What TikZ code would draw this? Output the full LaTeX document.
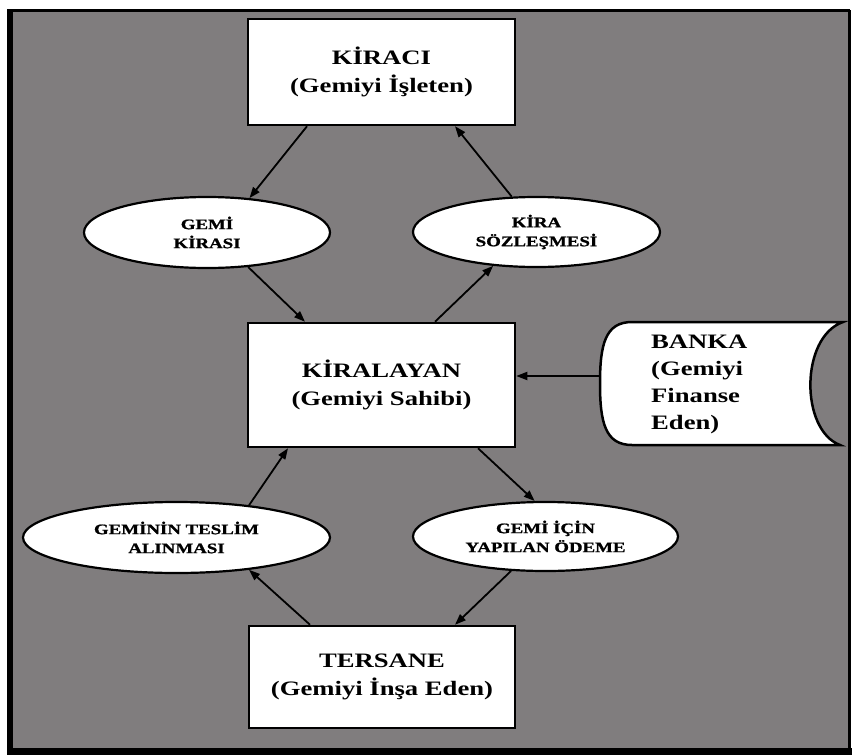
\documentclass[tikz,border=0pt]{standalone}
\usepackage{fontspec}
\setmainfont{Liberation Serif}[FakeStretch=1.3]
\newfontfamily\heavyfont{Liberation Serif}[FakeStretch=1.3,FakeBold=1.2]
\usetikzlibrary{arrows.meta,shapes.geometric}
\definecolor{bggray}{RGB}{128,125,126}
\begin{document}
\begin{tikzpicture}[x=1pt,y=-1pt,
  box/.style={draw=black,line width=2.5pt,fill=white,minimum width=267pt,inner sep=0pt,align=center,
    font=\fontsize{20.5}{28}\selectfont\bfseries},
  oval/.style={ellipse,draw=black,line width=2.2pt,fill=white,inner sep=0pt,align=center,
    font=\heavyfont\fontsize{14.5}{19}\selectfont\bfseries},
  arr/.style={line width=1.8pt,-{Triangle[length=11pt,width=8pt]}}]
\useasboundingbox (0,0) rectangle (852,755);
% background and frame
\fill[white] (0,0) rectangle (852,755);
\fill[bggray] (7,10) rectangle (850,755);
\draw[line width=6pt] (10,10) -- (10,755);
\draw[line width=7pt] (7,751.5) -- (852,751.5);
\draw[line width=2.5pt] (7,10.5) -- (850,10.5);
\draw[line width=3pt] (849,10) -- (849,755);
% boxes
\node[box,minimum height=106pt] (kiraci) at (381.5,72) {KİRACI\\(Gemiyi İşleten)};
\node[box,minimum height=124pt] (kiralayan) at (381.5,385) {KİRALAYAN\\(Gemiyi Sahibi)};
\node[box,minimum width=266pt,minimum height=102pt] (tersane) at (382,677) {TERSANE\\(Gemiyi İnşa Eden)};
% ellipses
\node[oval,minimum width=246pt,minimum height=71pt] (kirasi) at (207,232.5) {GEMİ\\KİRASI};
\node[oval,minimum width=247pt,minimum height=70pt] (sozlesme) at (536.5,232) {KİRA\\SÖZLEŞMESİ};
\node[oval,minimum width=307pt,minimum height=71pt] (teslim) at (176.5,537.5) {GEMİNİN TESLİM\\ALINMASI};
\node[oval,minimum width=265pt,minimum height=69pt] (odeme) at (545.5,536.5) {GEMİ İÇİN\\YAPILAN ÖDEME};
% bank (stored data shape)
\draw[line width=2.5pt,fill=white] (843,322) -- (632,322)
  .. controls (605,322) and (600,345) .. (600,383.5)
  .. controls (600,422) and (605,445) .. (632,445) -- (840,445)
  .. controls (800,430) and (800,337) .. (843,322) -- cycle;
\coordinate (bankaW) at (600,376);
\node[anchor=west,inner sep=0pt,align=left,font=\fontsize{20.5}{27}\selectfont\bfseries] (banka) at (651,384)
  {BANKA\\(Gemiyi\\Finanse\\Eden)};
% connectors
\draw[arr] (bankaW) -- (bankaW -| kiralayan.east);
\draw[arr] ([xshift=-74.5pt]kiraci.south) -- (kirasi.39);
\draw[arr] (kirasi.320) -- ([xshift=-76.5pt]kiralayan.north);
\draw[arr] ([xshift=53.5pt]kiralayan.north) -- (sozlesme.218);
\draw[arr] (sozlesme.125) -- ([xshift=73.5pt]kiraci.south);
\draw[arr] ([xshift=96.5pt]kiralayan.south) -- (odeme.107);
\draw[arr] (odeme.225) -- ([xshift=73pt]tersane.north);
\draw[arr] ([xshift=-72pt]tersane.north) -- (teslim.336);
\draw[arr] (teslim.24) -- ([xshift=-93.5pt]kiralayan.south);
\end{tikzpicture}
\end{document}
